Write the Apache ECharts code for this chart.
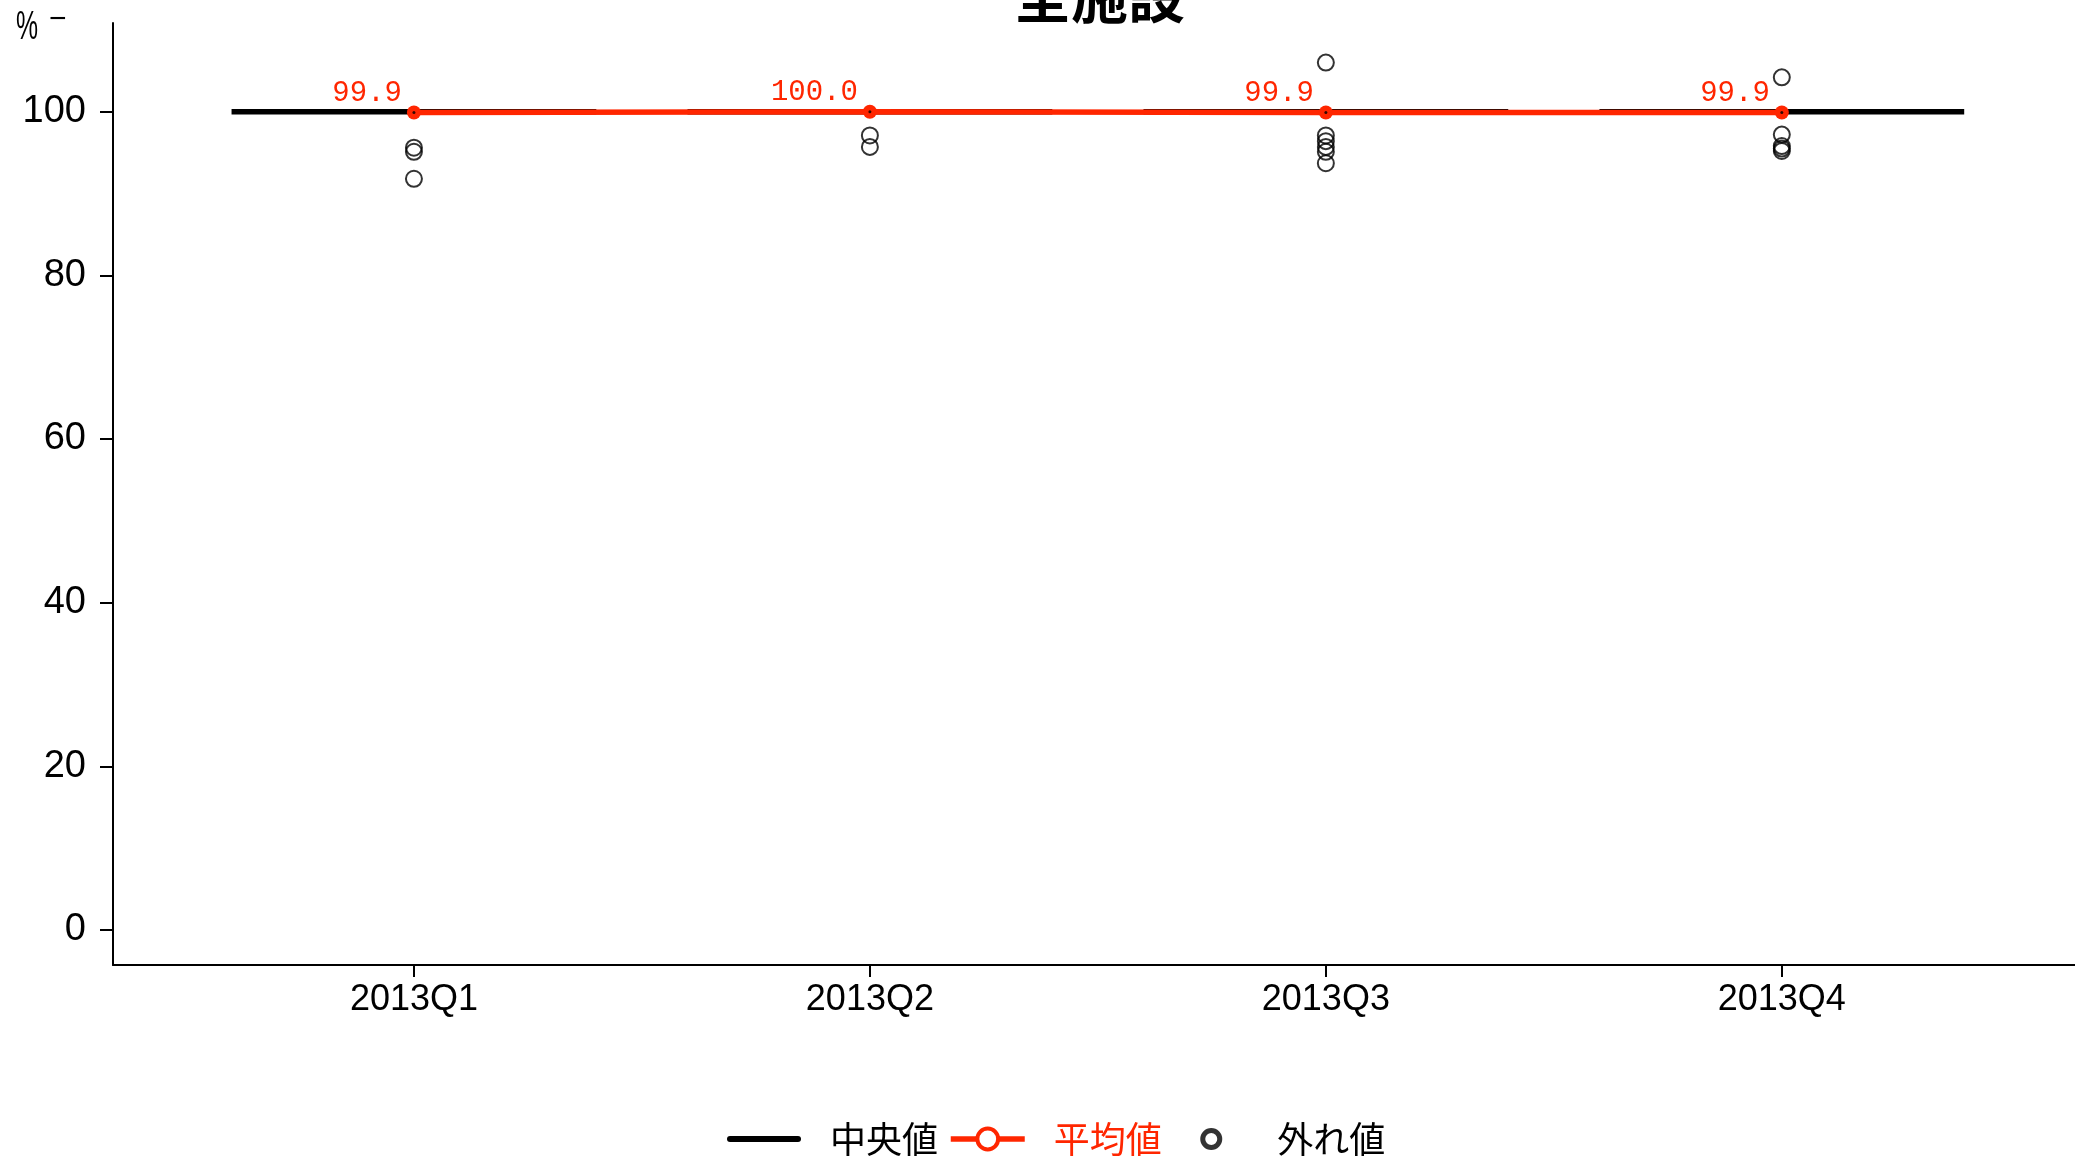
<!DOCTYPE html>
<html>
<head>
<meta charset="utf-8">
<script src="https://cdn.jsdelivr.net/npm/echarts@6/dist/echarts.min.js"></script>
<style>
html,body{margin:0;padding:0;background:#fff;}
#chart{width:2075px;height:1159px;}
</style>
</head>
<body>
<div id="chart"></div>
<script>
const categories = ['2013Q1', '2013Q2', '2013Q3', '2013Q4'];
const medians = [100, 100, 100, 100];
const means = [99.9, 100.0, 99.9, 99.9];
const outliersQ1 = [95.6, 95.1, 91.8];
const outliersQ2 = [97.1, 95.7];
const outliersQ3 = [106.0, 97.1, 96.4, 95.7, 95.1, 93.7];
const outliersQ4 = [104.2, 97.2, 95.8, 95.5, 95.2];
const outliers = [outliersQ1, outliersQ2, outliersQ3, outliersQ4];
const yTicks = [0, 20, 40, 60, 80, 100];
const titleText = '全施設';
const unitText = '%';
const seriesNames = ['中央値', '平均値', '外れ値'];

const RED = '#ff2600';
const LATIN = '"Liberation Sans", Arial, sans-serif';
const CJK = '"Noto Sans CJK JP", sans-serif';
const catIdx = categories.map((c, i) => i + 1);

const chart = echarts.init(document.getElementById('chart'), null, {renderer: 'canvas'});

const outlierData = [];
outliers.forEach((arr, i) => arr.forEach(v => outlierData.push([i + 1, v])));

const option = {
  backgroundColor: '#ffffff',
  animation: false,
  title: {
    text: titleText,
    left: 1009,
    top: -37,
    textStyle: {fontFamily: CJK, fontSize: 57, fontWeight: 'bold', color: '#000', lineHeight: 57}
  },
  graphic: [
    {type: 'text', x: 16, y: 8, scaleX: 0.62, style: {text: unitText, font: '40px ' + LATIN, fill: '#000'}},
    {type: 'text', x: 49, y: 5, style: {text: '−', font: '30px ' + LATIN, fill: '#000'}}
  ],
  grid: {left: 113, right: 0, top: 23, bottom: 194, containLabel: false},
  xAxis: {
    type: 'value',
    min: 0.34,
    max: 4.643,
    splitLine: {show: false},
    axisLine: {show: true, onZero: false, lineStyle: {color: '#000', width: 2}},
    axisTick: {show: true, customValues: catIdx, length: 12, lineStyle: {color: '#000', width: 2}},
    axisLabel: {
      customValues: catIdx,
      formatter: v => categories[Math.round(v) - 1] || '',
      color: '#000', fontFamily: LATIN, fontSize: 36, margin: 17
    }
  },
  yAxis: {
    type: 'value',
    min: -4.28,
    max: 110.84,
    splitLine: {show: false},
    axisLine: {show: true, onZero: false, lineStyle: {color: '#000', width: 2}},
    axisTick: {show: true, customValues: yTicks, length: 13, lineStyle: {color: '#000', width: 2}},
    axisLabel: {customValues: yTicks, color: '#000', fontFamily: LATIN, fontSize: 38, margin: 27, padding: [7, 0, 0, 0]}
  },
  legend: {
    left: 722,
    top: 1116,
    itemWidth: 74,
    itemHeight: 26,
    itemGap: 10,
    textStyle: {fontFamily: CJK, fontSize: 36, color: '#000', padding: [0, 0, 0, 24]},
    data: [
      {name: seriesNames[0], icon: 'path://M3,0 L71,0 A3,3 0 0 1 71,6 L3,6 A3,3 0 0 1 3,0 Z', itemStyle: {color: '#000'}},
      {name: seriesNames[1], textStyle: {color: RED},
        lineStyle: {width: 5.5, color: RED},
        itemStyle: {color: '#fff', borderColor: RED, borderWidth: 4}},
      {name: seriesNames[2],
        icon: 'path://M0,10 M74,10 M45.5,10 A8.5,8.5 0 1 1 28.5,10 A8.5,8.5 0 1 1 45.5,10 Z',
        itemStyle: {color: 'transparent', borderColor: '#000', borderWidth: 5}}
    ]
  },
  series: [
    {
      name: seriesNames[0],
      type: 'custom',
      data: medians.map((v, i) => [i + 1, v]),
      encode: {x: 0, y: 1},
      itemStyle: {color: '#000'},
      renderItem: function (params, api) {
        const x = api.value(0), y = api.value(1);
        const p1 = api.coord([x - 0.4, y]);
        const p2 = api.coord([x + 0.4, y]);
        return {type: 'line', shape: {x1: p1[0], y1: p1[1], x2: p2[0], y2: p2[1]},
          style: {stroke: '#000', lineWidth: 5.5}};
      },
      z: 2
    },
    {
      name: seriesNames[1],
      type: 'line',
      data: means.map((v, i) => [i + 1, v]),
      symbol: 'circle',
      symbolSize: 14,
      itemStyle: {color: RED},
      lineStyle: {color: RED, width: 5.5},
      label: {
        show: true,
        position: 'left',
        offset: [0, -19],
        formatter: p => p.value[1].toFixed(1),
        color: RED,
        fontFamily: '"Liberation Mono", "DejaVu Sans Mono", monospace',
        fontSize: 29
      },
      z: 3
    },
    {
      name: 'center',
      type: 'scatter',
      data: means.map((v, i) => [i + 1, v]),
      symbol: 'circle',
      symbolSize: 3,
      itemStyle: {color: '#000'},
      silent: true,
      z: 4
    },
    {
      name: seriesNames[2],
      type: 'scatter',
      data: outlierData,
      symbol: 'circle',
      symbolSize: 16,
      itemStyle: {color: 'transparent', borderColor: '#000', borderWidth: 2},
      z: 5
    }
  ]
};
chart.setOption(option);
</script>
</body>
</html>
